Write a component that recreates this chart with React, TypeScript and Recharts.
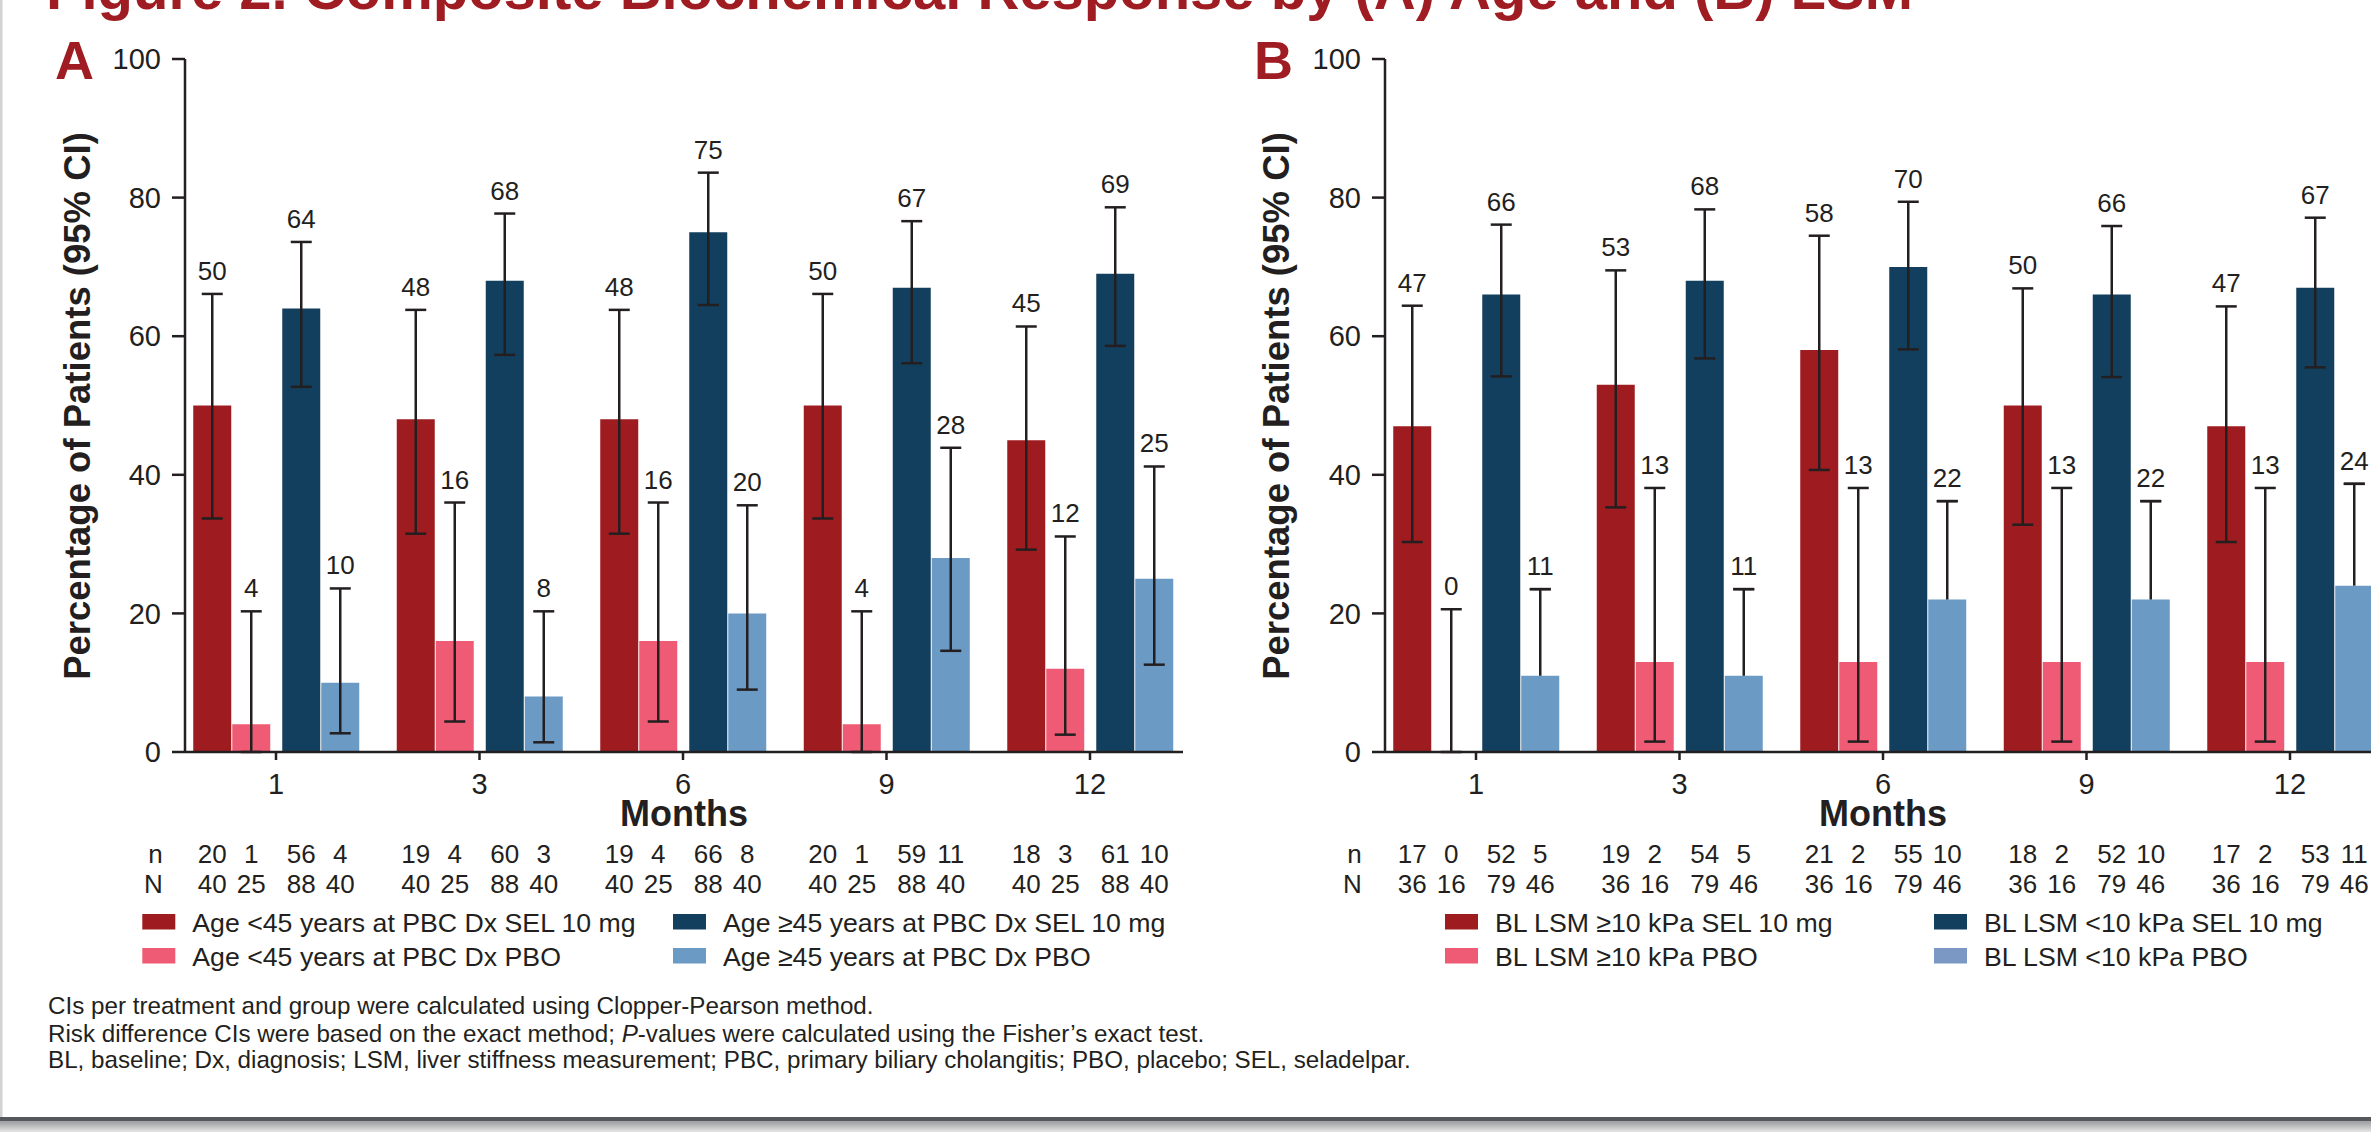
import React from 'react';
import { BarChart, Bar, XAxis, YAxis, ErrorBar, LabelList } from 'recharts';

const FONT = '"Liberation Sans", Arial, Helvetica, sans-serif';
const INK = '#231f20';
const HEAD_RED = '#9f1d22';

const RED = '#9e1c20';
const PINK = '#ef5b74';
const NAVY = '#133f5e';
const SKY = '#6b9ac4';
const SKY_KEY_B = '#7b97c4';

const months = ['1', '3', '6', '9', '12'];
const yTicks = [0, 20, 40, 60, 80, 100];

// Panel A: age at PBC diagnosis
const ageLt45SelPct = [50, 48, 48, 50, 45];
const ageLt45SelLow = [33.7, 31.5, 31.5, 33.7, 29.2];
const ageLt45SelHigh = [66.1, 63.8, 63.8, 66.1, 61.4];
const ageLt45SelN = [20, 19, 19, 20, 18];
const ageLt45SelTotal = [40, 40, 40, 40, 40];

const ageLt45PboPct = [4, 16, 16, 4, 12];
const ageLt45PboLow = [0, 4.4, 4.4, 0, 2.5];
const ageLt45PboHigh = [20.3, 36.0, 36.0, 20.3, 31.1];
const ageLt45PboN = [1, 4, 4, 1, 3];
const ageLt45PboTotal = [25, 25, 25, 25, 25];

const ageGe45SelPct = [64, 68, 75, 67, 69];
const ageGe45SelLow = [52.7, 57.3, 64.5, 56.1, 58.6];
const ageGe45SelHigh = [73.6, 77.7, 83.6, 76.6, 78.6];
const ageGe45SelN = [56, 60, 66, 59, 61];
const ageGe45SelTotal = [88, 88, 88, 88, 88];

const ageGe45PboPct = [10, 8, 20, 28, 25];
const ageGe45PboLow = [2.7, 1.4, 9.0, 14.6, 12.6];
const ageGe45PboHigh = [23.6, 20.3, 35.6, 43.9, 41.2];
const ageGe45PboN = [4, 3, 8, 11, 10];
const ageGe45PboTotal = [40, 40, 40, 40, 40];

// Panel B: baseline liver stiffness
const lsmHighSelPct = [47, 53, 58, 50, 47];
const lsmHighSelLow = [30.3, 35.3, 40.7, 32.8, 30.3];
const lsmHighSelHigh = [64.4, 69.5, 74.5, 66.9, 64.3];
const lsmHighSelN = [17, 19, 21, 18, 17];
const lsmHighSelTotal = [36, 36, 36, 36, 36];

const lsmHighPboPct = [0, 13, 13, 13, 13];
const lsmHighPboLow = [0, 1.5, 1.5, 1.5, 1.5];
const lsmHighPboHigh = [20.6, 38.1, 38.1, 38.1, 38.1];
const lsmHighPboN = [0, 2, 2, 2, 2];
const lsmHighPboTotal = [16, 16, 16, 16, 16];

const lsmLowSelPct = [66, 68, 70, 66, 67];
const lsmLowSelLow = [54.2, 56.8, 58.1, 54.1, 55.5];
const lsmLowSelHigh = [76.1, 78.3, 79.4, 75.9, 77.1];
const lsmLowSelN = [52, 54, 55, 52, 53];
const lsmLowSelTotal = [79, 79, 79, 79, 79];

// only the upper whisker is shown for this group
const lsmLowPboPct = [11, 11, 22, 22, 24];
const lsmLowPboLow = [11, 11, 22, 22, 24];
const lsmLowPboHigh = [23.5, 23.5, 36.2, 36.2, 38.7];
const lsmLowPboN = [5, 5, 10, 10, 11];
const lsmLowPboTotal = [46, 46, 46, 46, 46];

type Series = {
  name: string;
  color: string;
  keyColor?: string;
  upperOnly?: boolean;
  pct: number[];
  low: number[];
  high: number[];
  n: number[];
  total: number[];
};

const ageSeries: Series[] = [
  { name: 'Age <45 years at PBC Dx SEL 10 mg', color: RED, pct: ageLt45SelPct, low: ageLt45SelLow, high: ageLt45SelHigh, n: ageLt45SelN, total: ageLt45SelTotal },
  { name: 'Age <45 years at PBC Dx PBO', color: PINK, pct: ageLt45PboPct, low: ageLt45PboLow, high: ageLt45PboHigh, n: ageLt45PboN, total: ageLt45PboTotal },
  { name: 'Age \u226545 years at PBC Dx SEL 10 mg', color: NAVY, pct: ageGe45SelPct, low: ageGe45SelLow, high: ageGe45SelHigh, n: ageGe45SelN, total: ageGe45SelTotal },
  { name: 'Age \u226545 years at PBC Dx PBO', color: SKY, pct: ageGe45PboPct, low: ageGe45PboLow, high: ageGe45PboHigh, n: ageGe45PboN, total: ageGe45PboTotal },
];

const lsmSeries: Series[] = [
  { name: 'BL LSM \u226510 kPa SEL 10 mg', color: RED, pct: lsmHighSelPct, low: lsmHighSelLow, high: lsmHighSelHigh, n: lsmHighSelN, total: lsmHighSelTotal },
  { name: 'BL LSM \u226510 kPa PBO', color: PINK, pct: lsmHighPboPct, low: lsmHighPboLow, high: lsmHighPboHigh, n: lsmHighPboN, total: lsmHighPboTotal },
  { name: 'BL LSM <10 kPa SEL 10 mg', color: NAVY, pct: lsmLowSelPct, low: lsmLowSelLow, high: lsmLowSelHigh, n: lsmLowSelN, total: lsmLowSelTotal },
  { name: 'BL LSM <10 kPa PBO', color: SKY, keyColor: SKY_KEY_B, upperOnly: true, pct: lsmLowPboPct, low: lsmLowPboLow, high: lsmLowPboHigh, n: lsmLowPboN, total: lsmLowPboTotal },
];

// Each series is a stack: the visible bar (v) plus a transparent segment (cap)
// reaching up to the upper confidence limit, which carries the whisker and the value label.
function buildRows(series: Series[]) {
  return months.map((m, i) => {
    const row: Record<string, any> = { month: m, spacer: 0 };
    series.forEach((s, k) => {
      row[`v${k}`] = s.pct[i];
      row[`cap${k}`] = s.high[i] - s.pct[i];
      row[`err${k}`] = [s.high[i] - s.low[i], 0];
      row[`tip${k}`] = [0, 0];
      row[`n${k}`] = s.n[i];
      row[`N${k}`] = s.total[i];
    });
    return row;
  });
}

const BAR = 38;
const CAP_HALF = 10.5;
const BASE_TO_N = 110.5;
const BASE_TO_TOTAL = 141.3;

const countLabel = (drop: number) => (p: any) => {
  const vb = p.viewBox ?? p;
  const cx = vb.x + vb.width / 2;
  const base = vb.y + vb.height;
  return (
    <text x={cx} y={base + drop} textAnchor="middle" fontSize={26} fill={INK} fontFamily={FONT}>
      {p.value}
    </text>
  );
};

function seriesBars(s: Series, k: number) {
  const whiskers = s.upperOnly
    ? [
        <ErrorBar key="line" dataKey={`err${k}`} direction="y" width={0} stroke={INK} strokeWidth={2.5} />,
        <ErrorBar key="tip" dataKey={`tip${k}`} direction="y" width={CAP_HALF} stroke={INK} strokeWidth={2.5} />,
      ]
    : [<ErrorBar key="full" dataKey={`err${k}`} direction="y" width={CAP_HALF} stroke={INK} strokeWidth={2.5} />];
  return [
    <Bar key={`v${k}`} dataKey={`v${k}`} stackId={`s${k}`} fill={s.color} barSize={BAR} minPointSize={1} isAnimationActive={false}>
      <LabelList dataKey={`n${k}`} content={countLabel(BASE_TO_N)} />
      <LabelList dataKey={`N${k}`} content={countLabel(BASE_TO_TOTAL)} />
    </Bar>,
    <Bar key={`c${k}`} dataKey={`cap${k}`} stackId={`s${k}`} fill="transparent" barSize={BAR} isAnimationActive={false}>
      {whiskers}
      <LabelList dataKey={`v${k}`} position="top" offset={14} fill={INK} fontSize={26} fontFamily={FONT} />
    </Bar>,
  ];
}

function Panel({ series, left }: { series: Series[]; left: number }) {
  const rows = buildRows(series);
  return (
    <div style={{ position: 'absolute', left, top: 0 }}>
      <BarChart
        width={1200}
        height={900}
        data={rows}
        margin={{ top: 59, right: 17, bottom: 108, left: 65 }}
        barGap={1}
        style={{ fontFamily: FONT }}
      >
        <XAxis
          dataKey="month"
          height={40}
          interval={0}
          padding={{ left: -10.75, right: -8.75 }}
          tickSize={8}
          tickMargin={13}
          tick={{ fontSize: 29, fill: INK, fontFamily: FONT }}
          axisLine={{ stroke: INK, strokeWidth: 2.5 }}
          tickLine={{ stroke: INK, strokeWidth: 2.5 }}
        />
        <YAxis
          type="number"
          domain={[0, 100]}
          ticks={yTicks}
          width={120}
          tickSize={13}
          tickMargin={11}
          tick={{ fontSize: 29, fill: INK, fontFamily: FONT }}
          axisLine={{ stroke: INK, strokeWidth: 2.5 }}
          tickLine={{ stroke: INK, strokeWidth: 2.5 }}
        />
        {seriesBars(series[0], 0)}
        {seriesBars(series[1], 1)}
        <Bar dataKey="spacer" stackId="gap" fill="transparent" barSize={10} isAnimationActive={false} />
        {seriesBars(series[2], 2)}
        {seriesBars(series[3], 3)}
      </BarChart>
    </div>
  );
}

function PanelText({ letter, dx }: { letter: string; dx: number }) {
  return (
    <g>
      <text x={55 + dx} y={79} fontSize={54} fontWeight="bold" fill={HEAD_RED}>{letter}</text>
      <text
        x={0}
        y={0}
        transform={`translate(${77 + dx} 406) rotate(-90)`}
        textAnchor="middle"
        dominantBaseline="central"
        fontSize={36.5}
        fontWeight="bold"
        fill={INK}
      >
        Percentage of Patients (95% CI)
      </text>
      <text x={684 + dx} y={826} textAnchor="middle" fontSize={36} fontWeight="bold" fill={INK}>Months</text>
      <text x={155.5 + dx} y={862.5} textAnchor="middle" fontSize={26} fill={INK}>n</text>
      <text x={153.5 + dx} y={893.3} textAnchor="middle" fontSize={26} fill={INK}>N</text>
    </g>
  );
}

function LegendBlock({ series, col1, col2 }: { series: Series[]; col1: number; col2: number }) {
  const spots = [
    { s: series[0], x: col1, row: 0 },
    { s: series[2], x: col2, row: 0 },
    { s: series[1], x: col1, row: 1 },
    { s: series[3], x: col2, row: 1 },
  ];
  return (
    <g>
      {spots.map(({ s, x, row }) => (
        <g key={s.name}>
          <rect x={x} y={914 + row * 34} width={33} height={15.5} fill={s.keyColor ?? s.color} />
          <text x={x + 50} y={931.5 + row * 34} fontSize={26.7} fill={INK}>{s.name}</text>
        </g>
      ))}
    </g>
  );
}

export default function App() {
  return (
    <div style={{ position: 'relative', width: 2371, height: 1132, overflow: 'hidden', background: '#fff', fontFamily: FONT }}>
      <style>{'html,body{margin:0;padding:0;overflow:hidden;background:#fff}'}</style>
      <Panel series={ageSeries} left={0} />
      <Panel series={lsmSeries} left={1200} />
      <svg
        width={2371}
        height={1132}
        style={{ position: 'absolute', left: 0, top: 0, pointerEvents: 'none', fontFamily: FONT }}
      >
        <text x={46} y={9} fontSize={58} fontWeight="bold" fill={HEAD_RED}>
          Figure 2. Composite Biochemical Response by (A) Age and (B) LSM
        </text>
        <PanelText letter="A" dx={0} />
        <PanelText letter="B" dx={1199} />
        <LegendBlock series={ageSeries} col1={142.3} col2={673} />
        <LegendBlock series={lsmSeries} col1={1445} col2={1934} />
        <g fontSize={24.2} fill={INK}>
          <text x={48} y={1014}>CIs per treatment and group were calculated using Clopper-Pearson method.</text>
          <text x={48} y={1041.5}>
            Risk difference CIs were based on the exact method; <tspan fontStyle="italic">P</tspan>-values were calculated using the Fisher{'\u2019'}s exact test.
          </text>
          <text x={48} y={1068}>
            BL, baseline; Dx, diagnosis; LSM, liver stiffness measurement; PBC, primary biliary cholangitis; PBO, placebo; SEL, seladelpar.
          </text>
        </g>
        <rect x={0} y={0} width={2.5} height={1117} fill="#d2d2d2" />
        <rect x={0} y={1117} width={2371} height={4.5} fill="#55595e" />
        <defs>
          <linearGradient id="dropShade" x1="0" y1="0" x2="0" y2="1">
            <stop offset="0" stopColor="#9c9ea1" />
            <stop offset="1" stopColor="#e6e6e6" />
          </linearGradient>
        </defs>
        <rect x={0} y={1121.5} width={2371} height={10.5} fill="url(#dropShade)" />
      </svg>
    </div>
  );
}
